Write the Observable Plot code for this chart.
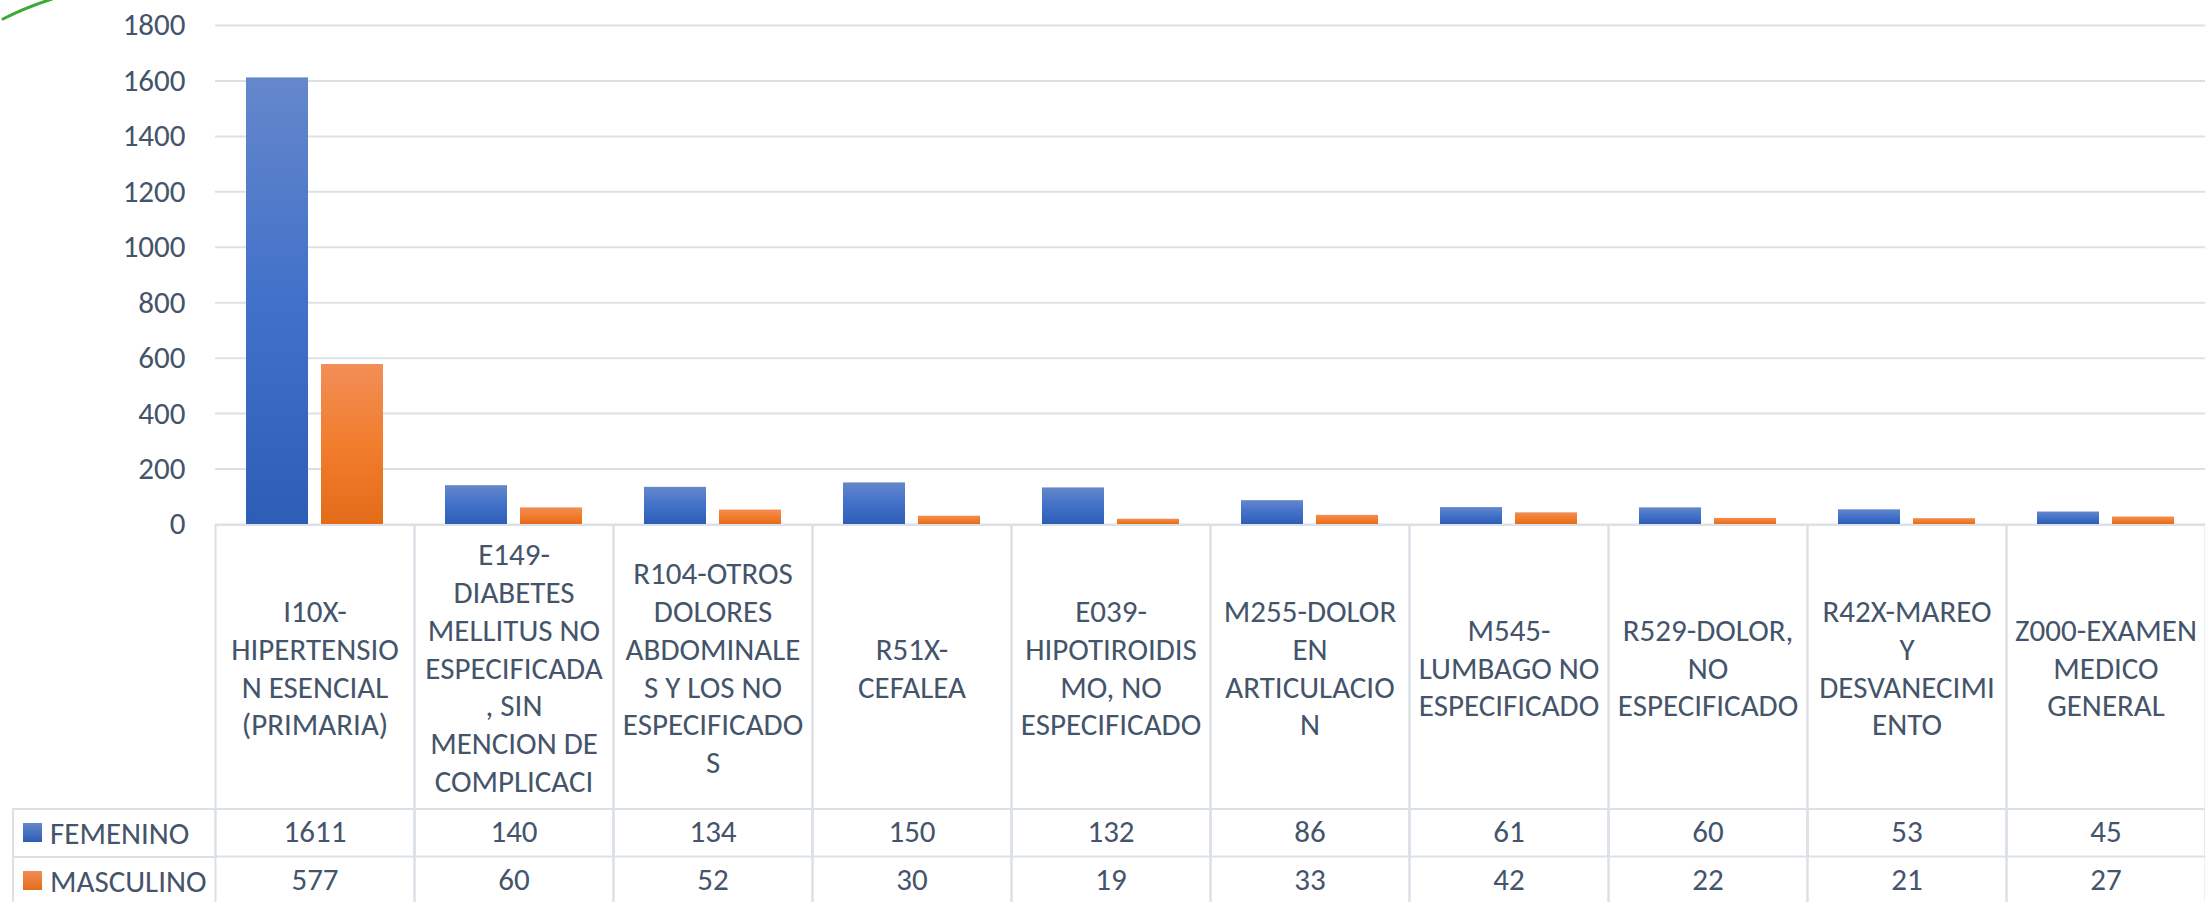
<!DOCTYPE html>
<html>
<head>
<meta charset="utf-8">
<script src="https://cdn.jsdelivr.net/npm/d3@7"></script>
<script src="https://cdn.jsdelivr.net/npm/@observablehq/plot@0.6"></script>
<style>
  html, body { margin: 0; padding: 0; background: #fff; }
  #wrap { position: relative; width: 2205px; height: 902px; overflow: hidden;
          font-family: Carlito, Calibri, Lato, sans-serif; color: #44546A; }
  #chart { position: absolute; left: 0; top: 0; }
  .legcell { position: absolute; left: 12px; width: 205px; height: 50px; box-sizing: border-box;
             border: 2px solid #DCE1E8; border-right: none; font-size: 31px; line-height: 46px; padding-left: 36px; }
  .sw { position: absolute; left: 9px; top: 13px; width: 19px; height: 19px; }
</style>
</head>
<body>
<div id="wrap">
  <svg width="0" height="0" style="position:absolute">
    <defs>
      <linearGradient id="gFem" x1="0" y1="0" x2="0" y2="1">
        <stop offset="0" stop-color="#6587CB"/>
        <stop offset="0.5" stop-color="#4171C9"/>
        <stop offset="1" stop-color="#2E5DB6"/>
      </linearGradient>
      <linearGradient id="gMas" x1="0" y1="0" x2="0" y2="1">
        <stop offset="0" stop-color="#F18E57"/>
        <stop offset="0.5" stop-color="#F27D2D"/>
        <stop offset="1" stop-color="#E36C19"/>
      </linearGradient>
    </defs>
  </svg>
  <svg width="60" height="30" style="position:absolute;left:0;top:0">
    <path d="M3,19 Q24,8 52,-1" fill="none" stroke="#3DAA35" stroke-width="3" stroke-linecap="round"/>
  </svg>
  <div id="chart"></div>
  <div class="legcell" style="top:808px"><div class="sw" style="background:linear-gradient(#6587CB,#2E5DB6)"></div>FEMENINO</div>
  <div class="legcell" style="top:856px"><div class="sw" style="background:linear-gradient(#F18E57,#E36C19)"></div>MASCULINO</div>
</div>
<script>
const categories = [
  "I10X-HIPERTENSION ESENCIAL (PRIMARIA)",
  "E149-DIABETES MELLITUS NO ESPECIFICADA, SIN MENCION DE COMPLICACI",
  "R104-OTROS DOLORES ABDOMINALES Y LOS NO ESPECIFICADOS",
  "R51X-CEFALEA",
  "E039-HIPOTIROIDISMO, NO ESPECIFICADO",
  "M255-DOLOR EN ARTICULACION",
  "M545-LUMBAGO NO ESPECIFICADO",
  "R529-DOLOR, NO ESPECIFICADO",
  "R42X-MAREO Y DESVANECIMIENTO",
  "Z000-EXAMEN MEDICO GENERAL"
];
const tickLabels = [
  "I10X-\nHIPERTENSIO\nN ESENCIAL\n(PRIMARIA)",
  "E149-\nDIABETES\nMELLITUS NO\nESPECIFICADA\n, SIN\nMENCION DE\nCOMPLICACI",
  "R104-OTROS\nDOLORES\nABDOMINALE\nS Y LOS NO\nESPECIFICADO\nS",
  "R51X-\nCEFALEA",
  "E039-\nHIPOTIROIDIS\nMO, NO\nESPECIFICADO",
  "M255-DOLOR\nEN\nARTICULACIO\nN",
  "M545-\nLUMBAGO NO\nESPECIFICADO",
  "R529-DOLOR,\nNO\nESPECIFICADO",
  "R42X-MAREO\nY\nDESVANECIMI\nENTO",
  "Z000-EXAMEN\nMEDICO\nGENERAL"
];
const series = ["FEMENINO", "MASCULINO"];
const femenino = [1611, 140, 134, 150, 132, 86, 61, 60, 53, 45];
const masculino = [577, 60, 52, 30, 19, 33, 42, 22, 21, 27];
const yTicks = [0, 200, 400, 600, 800, 1000, 1200, 1400, 1600, 1800];

const rows = categories.map((c, i) => ({cat: c, fem: femenino[i], masc: masculino[i]}));
const long = categories.flatMap((c, i) => [
  {cat: c, series: series[0], value: femenino[i]},
  {cat: c, series: series[1], value: masculino[i]}
]);

const gridColor = "#DCE1E8";
const font = 'Carlito, Calibri, Lato, sans-serif';

const chart = Plot.plot({
  width: 2205,
  height: 902,
  marginLeft: 215,
  marginRight: 0,
  marginTop: 25,
  marginBottom: 378,
  style: {
    fontFamily: font,
    fontSize: "31px",
    color: "#44546A",
    background: "transparent",
    overflow: "visible"
  },
  fx: {domain: categories, paddingInner: 0, paddingOuter: 0, label: null},
  x: {domain: series, paddingInner: 0.1733, paddingOuter: 0.413, axis: null},
  y: {domain: [0, 1800], label: null},
  color: {domain: series, range: ["url(#gFem)", "url(#gMas)"]},
  marks: [
    Plot.gridY(yTicks, {stroke: gridColor, strokeOpacity: 1, strokeWidth: 2}),
    Plot.frame({stroke: gridColor, strokeWidth: 2, insetTop: 499.5, insetBottom: -380}),
    Plot.frame({stroke: gridColor, strokeWidth: 2, insetTop: 783.5, insetBottom: -332}),
    Plot.barY(long, {fx: "cat", x: "series", y: "value", fill: "series"}),
    Plot.axisY(yTicks, {tickSize: 0, tickPadding: 30, fontSize: 31, label: null, tickFormat: (d) => String(d)}),
    Plot.axisFx({
      anchor: "bottom",
      tickSize: 0, tickPadding: 142, lineAnchor: "middle", lineHeight: 1.22, fontSize: 31, label: null,
      tickFormat: (c) => tickLabels[categories.indexOf(c)]
    }),
    Plot.text(rows, {fx: "cat", text: (d) => String(d.fem), frameAnchor: "bottom", dy: 308, lineAnchor: "middle", fontSize: 31}),
    Plot.text(rows, {fx: "cat", text: (d) => String(d.masc), frameAnchor: "bottom", dy: 356, lineAnchor: "middle", fontSize: 31})
  ]
});
document.getElementById("chart").appendChild(chart);
</script>
</body>
</html>
